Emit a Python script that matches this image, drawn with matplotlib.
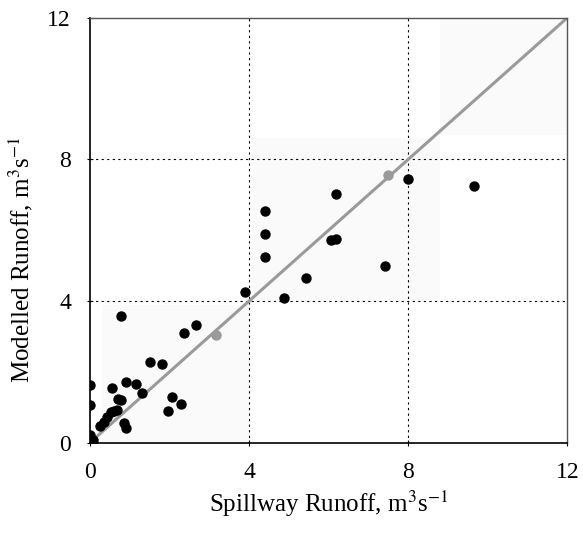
import matplotlib
matplotlib.use("Agg")
import matplotlib.pyplot as plt
from matplotlib.patches import Rectangle

plt.rcParams['font.family'] = ['Liberation Serif', 'DejaVu Serif']
plt.rcParams['mathtext.fontset'] = 'stix'

# observed (spillway) vs modelled runoff, m3/s
spillway = [0.0, 0.0, 0.0, 0.0, 0.07, 0.25, 0.35, 0.44, 0.53, 0.62, 0.68,
            0.55, 0.72, 0.79, 0.90, 0.87, 0.91, 0.78, 1.17, 1.31, 1.51,
            1.82, 1.97, 2.07, 2.29, 2.37, 2.67, 3.91, 4.41, 4.41, 4.41,
            4.88, 5.44, 6.05, 6.19, 6.19, 7.41, 8.00, 9.66]
modelled = [1.64, 1.08, 0.22, 0.13, 0.08, 0.47, 0.60, 0.74, 0.86, 0.90, 0.92,
            1.54, 1.25, 1.22, 1.73, 0.55, 0.42, 3.59, 1.66, 1.41, 2.27,
            2.22, 0.89, 1.28, 1.09, 3.10, 3.34, 4.25, 6.54, 5.90, 5.24,
            4.10, 4.64, 5.73, 5.75, 7.02, 4.98, 7.44, 7.24]
# points lying on the 1:1 line, printed grey
grey_x = [3.17, 7.50]
grey_y = [3.05, 7.55]

ticks = [0, 4, 8, 12]

fig = plt.figure(figsize=(5.83, 5.40), dpi=100)
ax = fig.add_axes([0.154, 0.180, 0.819, 0.787])

# faint scan shading
for x0, y0, w, h in [(0.3, 0, 3.7, 3.9), (4.1, 4.0, 4.7, 4.6), (8.8, 8.7, 3.2, 3.3)]:
    ax.add_patch(Rectangle((x0, y0), w, h, color='#fafafa', zorder=0, lw=0))

for t in [4, 8]:
    ax.axvline(t, color='black', ls=(0, (2, 3)), lw=0.8, zorder=1)
    ax.axhline(t, color='black', ls=(0, (2, 3)), lw=0.8, zorder=1)

ax.plot([0, 12], [0, 12], color='#9a9a9a', lw=2.2, zorder=2)
ax.scatter(spillway, modelled, s=42, color='black', zorder=3)
ax.scatter(grey_x, grey_y, s=42, color='#9a9a9a', zorder=3)

ax.set_xlim(0, 12)
ax.set_ylim(0, 12)
ax.set_xticks(ticks)
ax.set_yticks(ticks)
ax.tick_params(direction='inout', length=5, labelsize=17, pad=11)
for s in ['left', 'bottom']:
    ax.spines[s].set_linewidth(1.2)
for s in ['top', 'right']:
    ax.spines[s].set_linewidth(1.0)
    ax.spines[s].set_color('#555555')

ax.set_xlabel(r'Spillway Runoff, m$^3$s$^{-1}$', fontsize=18, labelpad=4)
ax.set_ylabel(r'Modelled Runoff, m$^3$s$^{-1}$', fontsize=18)
ax.yaxis.set_label_coords(-0.115, 0.43)

fig.savefig('out.png', dpi=100)
